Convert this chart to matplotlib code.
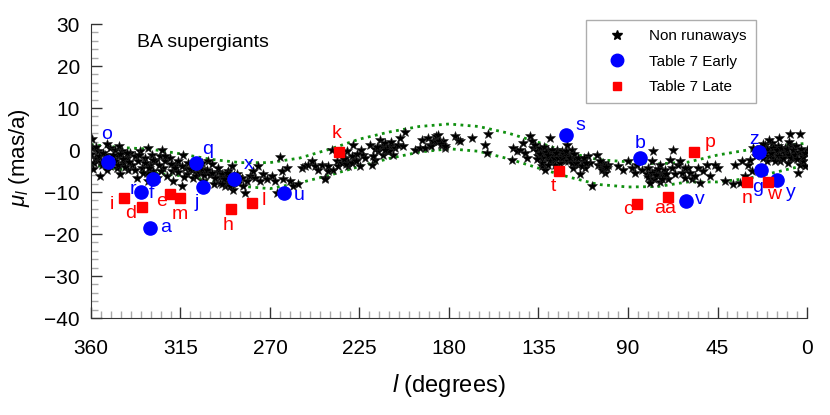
import matplotlib.pyplot as plt
import numpy as np
from matplotlib.lines import Line2D
from matplotlib.ticker import MultipleLocator

plt.rcParams.update({
    "font.family": ["Liberation Sans", "DejaVu Sans"],
    "mathtext.fontset": "custom",
    "mathtext.rm": "Liberation Sans",
    "mathtext.it": "Liberation Sans:italic",
    "axes.unicode_minus": True,
})

# =========================
# Data
# =========================

# Non runaway stars: (l, mu_l)
STARS = [
    # 360-300
    (359.6, 2.7), (359.6, 0.5), (358.0, -1.9), (356.3, -0.3), (355.5, -6.2), (354.6, -3.5),
    (352.9, -1.1), (352.1, -4.7), (350.4, 0.5), (349.6, -2.7), (347.9, 0.1), (347.1, -4.3),
    (346.2, -1.5), (345.4, -5.8), (344.6, -0.3), (343.7, -3.1), (342.1, -1.9), (341.2, -4.7),
    (340.4, -0.7), (339.5, -3.5), (337.9, -1.5), (337.0, -6.6), (336.2, -2.7), (335.3, -0.3),
    (334.5, -4.3), (332.8, -1.9), (332.0, -5.4), (331.2, 0.5), (330.3, -3.5), (329.5, -1.1),
    (328.6, -5.0), (327.8, -2.7), (327.0, -6.6), (325.3, -1.5), (324.5, 0.1), (323.6, -4.3),
    (322.8, -2.7), (321.9, -6.2), (320.3, -1.9), (319.4, -5.0), (318.6, -7.4), (317.7, -3.5),
    (316.1, -2.7), (314.4, -8.6), (313.6, -1.1), (312.7, -4.3), (311.9, -5.8), (311.0, -3.1),
    (309.4, -4.7), (308.5, -6.6), (306.9, -5.4), (306.0, -4.3), (304.3, -3.1), (303.5, -7.4),
    (301.8, -5.0), (301.0, -2.7),
    (358.5, -3.0), (357.0, -2.2), (356.0, -1.5), (355.0, -2.8), (354.0, -0.8), (353.0, -3.2),
    (351.5, -2.0), (350.5, -3.8), (349.0, -1.2), (348.0, -2.5), (346.5, -3.5), (345.5, -1.0),
    (344.0, -2.2), (343.0, -4.0), (342.0, -0.8), (341.0, -2.9), (360.0, -1.0), (359.0, -4.5),
    (357.5, 0.8), (352.0, 1.5), (346.0, 1.0), (338.0, -4.8), (336.0, -1.2), (334.0, -5.5),
    (333.0, -3.0), (331.0, -4.2), (329.0, -2.4), (328.0, -6.0), (326.0, -3.6), (325.0, -5.0),
    (323.0, -1.4), (320.0, -3.4), (318.0, -4.2), (316.0, -5.2), (314.0, -3.8), (313.0, -6.5),
    (310.0, -4.6), (308.0, -2.8), (307.0, -6.2), (305.0, -5.4), (304.0, -4.4), (303.0, -6.0),
    (300.0, -6.0), (299.0, -3.4), (298.0, -8.0), (296.0, -5.3), (295.0, -6.4), (331.5, -7.4),
    # 300-240
    (301.9, -4.7), (299.3, -5.4), (297.7, -6.6), (296.0, -4.3), (295.2, -7.8), (294.3, -5.8),
    (292.6, -8.6), (291.0, -5.0), (290.1, -7.0), (289.3, -3.9), (288.5, -9.4), (286.8, -5.8),
    (285.9, -7.8), (284.3, -6.6), (283.4, -8.6), (282.6, -10.2), (281.7, -7.4), (280.1, -6.2),
    (278.4, -5.0), (277.6, -6.6), (275.9, -3.9), (275.0, -7.4), (273.4, -5.8), (271.7, -7.0),
    (269.2, -6.2), (267.5, -7.4), (266.7, -10.2), (265.0, -1.7), (264.2, -5.0), (263.3, -7.0),
    (261.6, -4.3), (260.0, -7.4), (258.3, -8.6), (255.8, -8.2), (254.1, -4.3), (252.4, -3.9),
    (250.7, -3.5), (249.1, -2.7), (247.4, -3.9), (245.7, -4.7), (244.0, -3.5), (242.4, -6.6),
    (240.7, -5.0),
    (288.0, -6.0), (289.0, -8.0), (291.0, -7.5), (292.0, -6.5), (293.0, -7.0), (294.0, -8.0),
    (287.0, -7.0), (290.0, -8.5), (291.5, -5.5), (286.0, -6.5),
    # 240-180
    (242.4, -7.0), (240.7, -3.9), (239.0, 0.1), (238.2, -4.7), (236.5, -2.7), (235.7, -3.9),
    (234.0, -3.1), (232.3, -1.9), (231.5, -0.3), (230.7, -3.9), (229.0, -1.5), (228.2, 1.3),
    (226.5, -2.3), (224.8, -3.9), (224.0, 0.1), (223.1, -1.1), (222.3, -1.9), (219.8, 1.3),
    (218.9, -3.5), (217.3, -2.3), (215.6, -0.3), (214.7, 2.5), (213.9, 0.9), (213.1, -1.1),
    (212.2, 1.7), (211.4, -0.3), (209.7, 0.9), (208.0, -1.1), (207.2, 0.5), (205.5, 1.3),
    (204.7, 2.9), (203.0, 0.9), (202.2, 4.4), (197.1, 0.1), (194.6, 0.5), (193.8, 2.5),
    (192.1, 0.5), (190.4, 2.9), (189.6, 1.3), (188.8, 0.9), (187.9, 2.1), (186.3, 3.3),
    (185.4, 3.6), (183.7, 1.3), (182.9, 2.1), (182.1, 0.5),
    (231.0, -2.8), (232.0, -3.3), (233.0, -2.2), (229.0, -3.0), (227.0, -2.6), (226.0, -1.0),
    (218.0, -1.5), (217.0, 0.2), (216.0, 0.8), (211.0, 0.6), (210.0, -0.2), (209.0, 1.8),
    (212.0, 0.0), (186.0, 1.8), (185.0, 2.2), (184.0, 1.5),
    # 180-120
    (182.0, 0.9), (177.0, 3.3), (175.3, 2.5), (174.5, 2.1), (168.6, 2.9), (161.9, 1.3),
    (161.0, -0.7), (160.2, 3.7), (147.6, 0.5), (148.5, -2.3), (146.0, -0.3), (144.3, 0.1),
    (142.6, 1.7), (141.8, -0.7), (140.9, -1.9), (139.3, 3.3), (138.4, 2.1), (137.6, 0.5),
    (136.7, 1.3), (135.9, -0.3), (135.1, -1.5), (134.2, 0.5), (133.4, -3.9), (132.6, -0.7),
    (131.7, -4.7), (130.9, -1.9), (130.0, 0.1), (129.2, 2.9), (128.4, -2.7), (127.5, -1.1),
    (126.7, -3.5), (125.9, 0.1), (124.2, -1.5), (123.3, -0.3), (121.7, -2.7), (120.0, -1.1),
    (134.0, -1.0), (133.0, -2.0), (132.0, 0.8), (131.0, -0.5), (130.0, -1.2), (129.0, -2.5),
    (128.0, 0.0), (127.0, -2.0), (126.0, -0.8), (125.0, -1.8), (124.0, -3.0), (123.0, -2.0),
    (122.0, -1.0), (121.0, -0.2), (133.0, -3.0), (136.0, -2.2), (130.0, -3.5),
    # 120-60
    (120.9, 1.3), (120.0, -2.7), (118.3, 0.1), (117.5, -4.3), (116.7, -1.9), (115.0, -3.5),
    (114.2, -5.8), (112.5, -2.7), (111.6, -4.3), (110.0, -1.5), (109.1, -3.1), (108.3, -8.6),
    (105.8, -1.1), (104.9, -3.5), (103.3, -4.3), (102.4, -3.1), (101.6, -5.4), (100.8, -4.3),
    (99.9, -3.5), (94.9, -3.9), (92.4, -4.7), (89.9, -2.7), (88.2, -4.3), (86.5, -5.4),
    (85.7, -3.5), (83.2, -4.7), (80.6, -5.8), (79.8, -4.3), (79.0, -7.0), (78.1, -2.7),
    (77.3, -0.3), (76.4, -5.0), (74.8, -6.2), (73.9, -3.5), (73.1, -5.4), (71.4, -4.7),
    (69.7, -7.0), (68.9, -2.3), (68.1, -4.3), (67.2, 0.1), (66.4, -5.8), (64.7, -3.5),
    (63.9, -2.7), (63.0, -5.4), (61.4, -6.6), (59.7, -4.3),
    (80.0, -6.5), (78.0, -5.5), (77.0, -7.0), (76.0, -6.0), (75.0, -4.5), (74.0, -7.5),
    (72.0, -6.2), (71.0, -5.8), (79.0, -7.8), (73.0, -6.8),
    (119.0, -2.0), (118.0, -3.0), (117.0, -1.0), (116.0, -3.0), (115.0, -2.0), (113.0, -3.8),
    (112.0, -1.8), (111.0, -3.0), (104.0, -2.5), (103.0, -4.8), (102.0, -3.8), (101.0, -4.0),
    # 60-0
    (61.4, -4.3), (58.9, -5.4), (58.0, -7.0), (56.4, -6.2), (54.7, -4.3), (53.9, -7.8),
    (52.2, -5.0), (50.5, -3.5), (48.8, -6.2), (46.3, -3.5), (44.6, -4.3), (41.3, -7.4),
    (37.1, -8.2), (36.2, -3.5), (33.7, -7.8), (32.9, -2.7), (31.2, -6.2), (29.6, -3.5),
    (28.7, -2.3), (27.9, -5.0), (27.0, 0.5), (25.4, -1.5), (21.2, 1.3), (20.3, -2.7),
    (19.5, -0.3), (17.8, 1.7), (17.0, -1.9), (16.1, 0.5), (15.3, -1.1), (14.5, 0.9),
    (13.6, -2.7), (12.8, -0.3), (12.0, -1.9), (11.1, 0.5), (10.3, -1.1), (9.4, -3.1),
    (8.6, 3.7), (7.8, 1.3), (6.9, -1.9), (6.1, -0.7), (5.3, 0.9), (4.4, -5.4),
    (3.6, -3.5), (2.7, -1.1), (1.9, -2.7), (1.1, -3.9), (0.2, 0.1), (3.5, 3.8),
    (24.0, -0.5), (23.0, 0.8), (22.0, -1.8), (21.0, -0.8), (20.0, 0.2), (19.0, -1.5),
    (18.0, -0.6), (17.0, 0.4), (16.0, -2.5), (15.0, 0.0), (14.0, -1.5), (13.0, 0.5),
    (12.0, -2.0), (11.0, -0.8), (10.0, 0.2), (9.0, -1.2), (8.0, -2.0), (7.0, 0.0),
    (6.0, -1.3), (5.0, -2.2), (4.0, -0.4), (3.0, 0.3), (2.0, -1.6), (1.0, -0.8),
    (22.0, 1.5), (19.0, 2.5), (9.0, 2.0), (14.0, 2.8),
]

# Table 7 early-type runaways
EARLY_NAMES = ["o", "r", "f", "a", "q", "j", "x", "u", "s", "b", "v", "z", "g", "y"]
EARLY_L = [351.6, 335.0, 328.8, 330.3, 307.2, 303.5, 288.1, 263.0, 121.3, 84.0, 61.0, 24.3, 23.3, 15.0]
EARLY_MU = [-2.8, -9.9, -6.8, -18.5, -3.2, -8.8, -7.0, -10.3, 3.5, -1.9, -12.2, -0.5, -4.7, -7.2]

# Table 7 late-type runaways
LATE_NAMES = ["i", "d", "e", "m", "h", "l", "k", "t", "c", "aa", "p", "n", "w"]
LATE_L = [343.3, 334.5, 320.3, 315.1, 289.8, 279.2, 235.2, 124.9, 85.3, 70.0, 57.0, 30.2, 19.8]
LATE_MU = [-11.5, -13.5, -10.5, -11.5, -14.1, -12.5, -0.5, -5.0, -12.9, -11.1, -0.5, -7.7, -7.5]

# Galactic rotation envelope (dotted curves)
CURVE_L = [360, 345, 330, 315, 300, 285, 270, 255, 240, 225, 210, 195, 180,
           165, 150, 135, 120, 105, 90, 75, 60, 45, 30, 15, 0]
CURVE_UPPER = [1.3, 0.6, 0.2, -0.9, -2.2, -3.0, -3.0, -1.9, 0.2, 2.6, 4.3, 5.6, 6.2,
               5.6, 4.0, 1.8, -0.6, -2.3, -2.8, -3.3, -2.9, -1.2, 0.0, 1.0, 1.6]
CURVE_LOWER = [-3.5, -4.6, -5.4, -6.1, -7.3, -8.6, -9.2, -7.8, -6.0, -3.9, -2.0, -0.5, 0.3,
               -0.3, -2.1, -4.3, -6.4, -8.2, -8.8, -8.7, -7.6, -7.6, -6.8, -5.2, -3.5]

Y_TICKS = [-40, -30, -20, -10, 0, 10, 20, 30]
X_TICKS = [360, 315, 270, 225, 180, 135, 90, 45, 0]

# label offsets in points (dx, dy)
EARLY_OFFS = [(-0.7, 19.4), (-5.8, 1.2), (-1.0, -10.4), (11.5, 0.0), (8.4, 10.1), (-4.8, -11.5),
              (10.3, 10.8), (10.8, -1.4), (10.8, 7.2), (0.2, 10.8), (10.3, 1.4), (-3.2, 9.1),
              (-2.2, -13.0), (9.6, -9.1)]
LATE_OFFS = [(-8.9, -4.3), (-7.7, -5.0), (-6.0, -5.0), (0.0, -11.5), (-1.7, -11.5), (8.4, 1.4),
             (-1.9, 13.2), (-3.9, -10.8), (-6.5, -3.8), (-2.2, -8.4), (11.7, 7.0), (0.0, -11.7),
             (4.8, -9.4)]


def main() -> None:
    stars = np.array(STARS)

    fig = plt.figure(figsize=(8.3, 4.15), dpi=100)
    ax = fig.add_axes([0.1096, 0.2337, 0.8627, 0.7084])

    dot_style = dict(color="#109010", lw=2.0, linestyle=(0, (1, 1.6)), dash_capstyle="butt", zorder=1)
    ax.plot(CURVE_L, CURVE_UPPER, **dot_style)
    ax.plot(CURVE_L, CURVE_LOWER, **dot_style)

    ax.plot(stars[:, 0], stars[:, 1], ls="none", marker="*", ms=7.5, color="black",
            mec="#222222", mew=0.4, zorder=2)
    ax.plot(EARLY_L, EARLY_MU, ls="none", marker="o", ms=9.5, color="#0000ff", zorder=3)
    ax.plot(LATE_L, LATE_MU, ls="none", marker="s", ms=6.5, color="#ff0000", zorder=3)

    for name, x, y, off in zip(EARLY_NAMES, EARLY_L, EARLY_MU, EARLY_OFFS):
        ax.annotate(name, (x, y), xytext=off, textcoords="offset points",
                    ha="center", va="center", color="#0000ff", fontsize=14, zorder=4)
    for name, x, y, off in zip(LATE_NAMES, LATE_L, LATE_MU, LATE_OFFS):
        ax.annotate(name, (x, y), xytext=off, textcoords="offset points",
                    ha="center", va="center", color="#ff0000", fontsize=14, zorder=4)

    ax.set_xticks(X_TICKS)
    ax.set_yticks(Y_TICKS)
    ax.xaxis.set_minor_locator(MultipleLocator(5))
    ax.yaxis.set_minor_locator(MultipleLocator(2))
    ax.set_xlim(360, 0)
    ax.set_ylim(-40, 30)

    for side in ("top", "right"):
        ax.spines[side].set_visible(False)
    for side in ("left", "bottom"):
        ax.spines[side].set_color("#333333")
    ax.tick_params(which="major", direction="in", length=8, width=1, color="#333333",
                   labelsize=15, pad=8)
    ax.tick_params(axis="x", which="major", pad=15)
    ax.tick_params(which="minor", direction="in", length=5, width=1, color="#aaaaaa")

    ax.set_xlabel("$l$ (degrees)", fontsize=17)
    ax.set_ylabel(r"$\mu_{l}$ (mas/a)", fontsize=16)
    ax.xaxis.set_label_coords(0.5, -0.182)
    ax.yaxis.set_label_coords(-0.083, 0.546)

    ax.text(0.064, 0.936, "BA supergiants", transform=ax.transAxes, fontsize=14,
            ha="left", va="center")

    handles = [
        Line2D([], [], ls="none", marker="*", ms=7, color="black"),
        Line2D([], [], ls="none", marker="o", ms=9, color="#0000ff"),
        Line2D([], [], ls="none", marker="s", ms=6, color="#ff0000"),
    ]
    labels = ["Non runaways", "Table 7 Early", "Table 7 Late"]
    leg = fig.legend(handles, labels, loc="upper right", bbox_to_anchor=(756 / 830, 1 - 20 / 415),
                     fontsize=11, frameon=True, fancybox=False, borderpad=0.6,
                     handlelength=2.9, handletextpad=0.65, labelspacing=0.75, borderaxespad=0)
    leg.get_frame().set_edgecolor("#999999")
    leg.get_frame().set_linewidth(1.0)

    fig.savefig("out.png", dpi=100)
    plt.close(fig)


if True:
    main()
